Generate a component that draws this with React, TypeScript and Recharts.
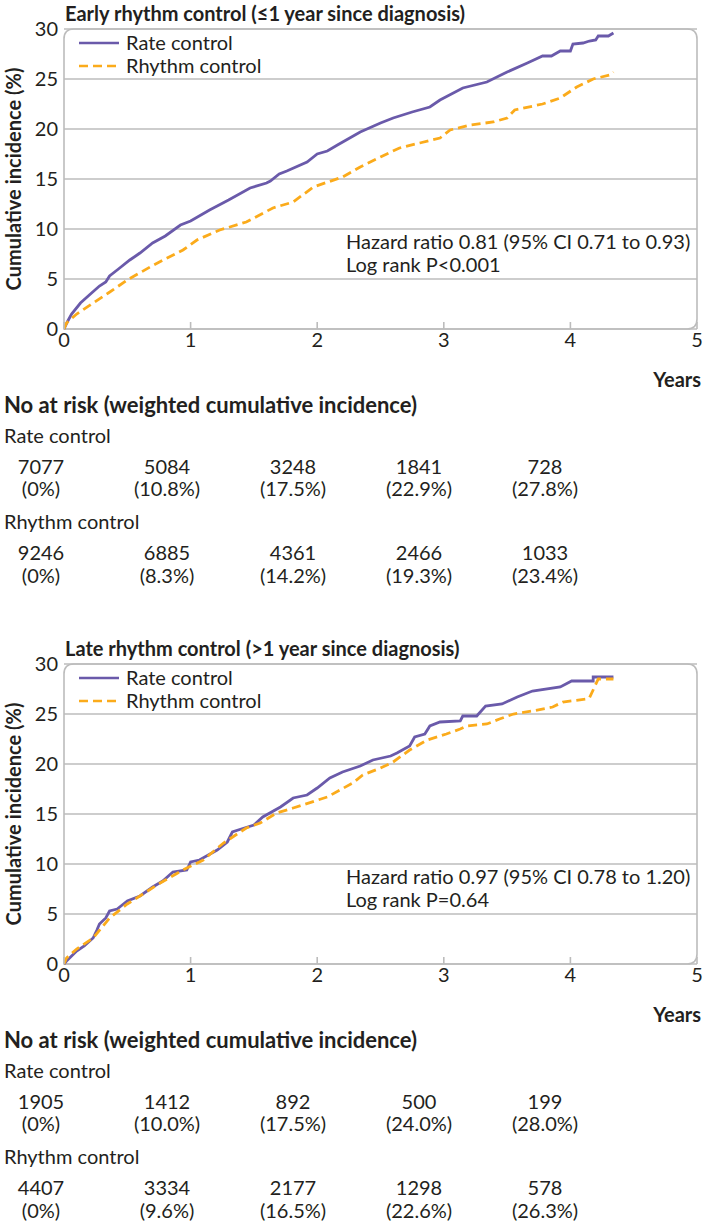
import React from 'react';
import { LineChart, Line, XAxis, YAxis, CartesianGrid, ReferenceArea, Legend } from 'recharts';

const yearTicks = [0, 1, 2, 3, 4, 5];
const incidenceTicks = [0, 5, 10, 15, 20, 25, 30];

// [years, cumulative incidence %]
const earlyRate = [
  [0, 0], [0.03, 0.8], [0.06, 1.5], [0.13, 2.6], [0.2, 3.4], [0.28, 4.3], [0.33, 4.7], [0.36, 5.3],
  [0.43, 6.0], [0.52, 6.9], [0.6, 7.6], [0.7, 8.6], [0.8, 9.3], [0.92, 10.4], [1.0, 10.8], [1.15, 11.9],
  [1.3, 12.9], [1.47, 14.1], [1.6, 14.6], [1.63, 14.8], [1.7, 15.5], [1.76, 15.8], [1.92, 16.7],
  [2.0, 17.5], [2.08, 17.8], [2.16, 18.4], [2.34, 19.7], [2.5, 20.6], [2.6, 21.1], [2.75, 21.7],
  [2.89, 22.2], [2.97, 22.9], [3.15, 24.1], [3.34, 24.7], [3.5, 25.7], [3.66, 26.6], [3.78, 27.3],
  [3.85, 27.3], [3.92, 27.8], [4.0, 27.8], [4.02, 28.5], [4.1, 28.6], [4.15, 28.8], [4.2, 28.9],
  [4.22, 29.3], [4.3, 29.3], [4.34, 29.6],
];
const earlyRhythm = [
  [0, 0], [0.02, 0.6], [0.1, 1.5], [0.23, 2.6], [0.35, 3.6], [0.5, 4.9], [0.68, 6.2], [0.8, 7.0],
  [0.94, 7.9], [1.05, 8.9], [1.23, 9.9], [1.44, 10.7], [1.65, 12.1], [1.81, 12.7], [1.97, 14.2],
  [2.2, 15.2], [2.34, 16.2], [2.5, 17.2], [2.65, 18.1], [2.81, 18.6], [2.97, 19.1], [3.05, 19.9],
  [3.21, 20.4], [3.39, 20.7], [3.5, 21.1], [3.56, 21.9], [3.78, 22.5], [3.92, 23.1], [4.05, 24.2],
  [4.18, 25.0], [4.31, 25.4], [4.34, 25.7],
];
const lateRate = [
  [0, 0], [0.02, 0.3], [0.1, 1.3], [0.16, 1.8], [0.23, 2.6], [0.26, 3.4], [0.28, 4.0], [0.33, 4.6],
  [0.36, 5.3], [0.42, 5.5], [0.5, 6.3], [0.6, 6.8], [0.7, 7.7], [0.78, 8.3], [0.86, 9.2], [0.97, 9.4],
  [1.0, 10.2], [1.07, 10.4], [1.21, 11.4], [1.29, 12.2], [1.33, 13.2], [1.4, 13.5], [1.5, 13.9],
  [1.57, 14.7], [1.71, 15.7], [1.81, 16.6], [1.92, 16.9], [2.0, 17.6], [2.1, 18.6], [2.2, 19.2],
  [2.34, 19.8], [2.44, 20.4], [2.58, 20.8], [2.63, 21.1], [2.73, 21.8], [2.77, 22.7], [2.85, 23.0],
  [2.89, 23.8], [2.97, 24.2], [3.13, 24.3], [3.15, 24.8], [3.26, 24.8], [3.33, 25.8], [3.46, 26.0],
  [3.58, 26.7], [3.7, 27.3], [3.92, 27.7], [4.01, 28.3], [4.18, 28.3], [4.18, 28.7], [4.34, 28.7],
];
const lateRhythm = [
  [0, 0], [0.02, 0.6], [0.1, 1.5], [0.23, 2.6], [0.36, 4.6], [0.5, 6.0], [0.76, 8.1], [0.94, 9.4],
  [1.1, 10.4], [1.26, 12.1], [1.44, 13.6], [1.55, 14.1], [1.68, 15.1], [1.81, 15.6], [2.08, 16.7],
  [2.28, 18.1], [2.36, 18.9], [2.5, 19.6], [2.6, 20.2], [2.73, 21.4], [2.87, 22.4], [3.02, 23.0],
  [3.13, 23.5], [3.18, 23.8], [3.34, 24.0], [3.44, 24.5], [3.55, 25.0], [3.7, 25.3], [3.86, 25.7],
  [3.94, 26.2], [4.13, 26.5], [4.15, 26.6], [4.22, 28.5], [4.34, 28.5],
];

const earlyRiskRate = ['7077', '5084', '3248', '1841', '728'];
const earlyPctRate = ['0%', '10.8%', '17.5%', '22.9%', '27.8%'];
const earlyRiskRhythm = ['9246', '6885', '4361', '2466', '1033'];
const earlyPctRhythm = ['0%', '8.3%', '14.2%', '19.3%', '23.4%'];
const lateRiskRate = ['1905', '1412', '892', '500', '199'];
const latePctRate = ['0%', '10.0%', '17.5%', '24.0%', '28.0%'];
const lateRiskRhythm = ['4407', '3334', '2177', '1298', '578'];
const latePctRhythm = ['0%', '9.6%', '16.5%', '22.6%', '26.3%'];

const PURPLE = '#6a5aaa';
const ORANGE = '#fbab1b';
const GRID = '#bcbcbc';
const INK = '#231f20';
const FONT = 'Lato, "Noto Sans", sans-serif';
const FS = 20;

const toPoints = (rows: number[][]) => rows.map(([t, v]) => ({ t, v }));

const Frame = (props: any) => {
  const { x, y, width: w, height: h } = props;
  const r = 10;
  const d = `M${x},${y + h} L${x},${y + r} Q${x},${y} ${x + r},${y} L${x + w - r},${y} Q${x + w},${y} ${x + w},${y + r} L${x + w},${y + h - r} Q${x + w},${y + h} ${x + w - r},${y + h} Z`;
  return <path d={d} fill="none" stroke={GRID} strokeWidth={1.6} />;
};

const LegendBox = () => (
  <div style={{ fontFamily: FONT, fontSize: FS, color: INK, lineHeight: '23px' }}>
    {[
      { label: 'Rate control', color: PURPLE, dash: undefined },
      { label: 'Rhythm control', color: ORANGE, dash: '9 5' },
    ].map((it) => (
      <div key={it.label} style={{ display: 'flex', alignItems: 'center' }}>
        <svg width={42} height={10} style={{ marginRight: 6 }}>
          <line x1={1} y1={5} x2={41} y2={5} stroke={it.color} strokeWidth={2.6} strokeDasharray={it.dash} />
        </svg>
        <span>{it.label}</span>
      </div>
    ))}
  </div>
);

type PanelProps = {
  top: number;
  title: string;
  rate: number[][];
  rhythm: number[][];
  hr: string;
  pval: string;
  riskRate: string[];
  pctRate: string[];
  riskRhythm: string[];
  pctRhythm: string[];
};

const colX = [41, 167, 293, 419, 545];

function RiskRow({ y, values }: { y: number; values: string[] }) {
  return (
    <>
      {values.map((v, i) => (
        <div
          key={i}
          style={{ position: 'absolute', left: colX[i] - 50, width: 100, top: y, textAlign: 'center' }}
        >
          {v}
        </div>
      ))}
    </>
  );
}

function Panel(p: PanelProps) {
  const text = { fontFamily: FONT, fontSize: FS, color: INK, lineHeight: '24px' } as const;
  return (
    <div style={{ position: 'absolute', left: 0, top: p.top, width: 703, height: 600, ...text }}>
      <div style={{ position: 'absolute', left: 65, top: 1, fontWeight: 700 }}>{p.title}</div>
      <LineChart width={703} height={360} margin={{ top: 29, right: 6, bottom: 0, left: 0 }}>
        <CartesianGrid vertical={false} stroke={GRID} strokeWidth={1.6} />
        <ReferenceArea x1={0} x2={5} y1={0} y2={30} shape={<Frame />} />
        <XAxis
          dataKey="t"
          type="number"
          domain={[0, 5]}
          ticks={yearTicks}
          allowDataOverflow
          height={31}
          axisLine={false}
          tickSize={-7}
          tickMargin={11}
          tickLine={{ stroke: GRID, strokeWidth: 1.6 }}
          tick={{ fill: INK, fontSize: FS, fontFamily: FONT }}
        />
        <YAxis
          dataKey="v"
          type="number"
          domain={[0, 30]}
          ticks={incidenceTicks}
          width={64}
          axisLine={false}
          tickLine={false}
          tickSize={0}
          tickMargin={6}
          tick={{ fill: INK, fontSize: FS, fontFamily: FONT }}
          label={{
            value: 'Cumulative incidence (%)',
            angle: -90,
            position: 'insideLeft',
            offset: 14,
            style: { textAnchor: 'middle', fontWeight: 700, fontSize: 20, fill: INK, fontFamily: FONT },
          }}
        />
        <Legend
          layout="vertical"
          align="center"
          verticalAlign="middle"
          content={<LegendBox />}
          wrapperStyle={{ left: 78, top: 31, width: 'auto' }}
        />
        <Line
          data={toPoints(p.rate)}
          dataKey="v"
          name="Rate control"
          type="linear"
          stroke={PURPLE}
          strokeWidth={2.8}
          dot={false}
          isAnimationActive={false}
        />
        <Line
          data={toPoints(p.rhythm)}
          dataKey="v"
          name="Rhythm control"
          type="linear"
          stroke={ORANGE}
          strokeWidth={2.8}
          strokeDasharray="9 5"
          dot={false}
          isAnimationActive={false}
        />
      </LineChart>
      <div style={{ position: 'absolute', left: 346, top: 230, lineHeight: '23px' }}>
        <div>{p.hr}</div>
        <div>{p.pval}</div>
      </div>
      <div style={{ position: 'absolute', right: 2, top: 367, fontWeight: 700 }}>Years</div>
      <div style={{ position: 'absolute', left: 4, top: 393, fontWeight: 700, fontSize: 22 }}>
        No at risk (weighted cumulative incidence)
      </div>
      <div style={{ position: 'absolute', left: 4, top: 423 }}>Rate control</div>
      <RiskRow y={454} values={p.riskRate} />
      <RiskRow y={476} values={p.pctRate.map((s) => `(${s})`)} />
      <div style={{ position: 'absolute', left: 4, top: 509 }}>Rhythm control</div>
      <RiskRow y={540} values={p.riskRhythm} />
      <RiskRow y={563} values={p.pctRhythm.map((s) => `(${s})`)} />
    </div>
  );
}

export default function App() {
  return (
    <div style={{ position: 'absolute', left: 0, top: 0, width: 703, height: 1223, background: '#fff' }}>
      <Panel
        top={0}
        title="Early rhythm control (≤1 year since diagnosis)"
        rate={earlyRate}
        rhythm={earlyRhythm}
        hr="Hazard ratio 0.81 (95% CI 0.71 to 0.93)"
        pval="Log rank P<0.001"
        riskRate={earlyRiskRate}
        pctRate={earlyPctRate}
        riskRhythm={earlyRiskRhythm}
        pctRhythm={earlyPctRhythm}
      />
      <Panel
        top={635}
        title="Late rhythm control (>1 year since diagnosis)"
        rate={lateRate}
        rhythm={lateRhythm}
        hr="Hazard ratio 0.97 (95% CI 0.78 to 1.20)"
        pval="Log rank P=0.64"
        riskRate={lateRiskRate}
        pctRate={latePctRate}
        riskRhythm={lateRiskRhythm}
        pctRhythm={latePctRhythm}
      />
    </div>
  );
}
